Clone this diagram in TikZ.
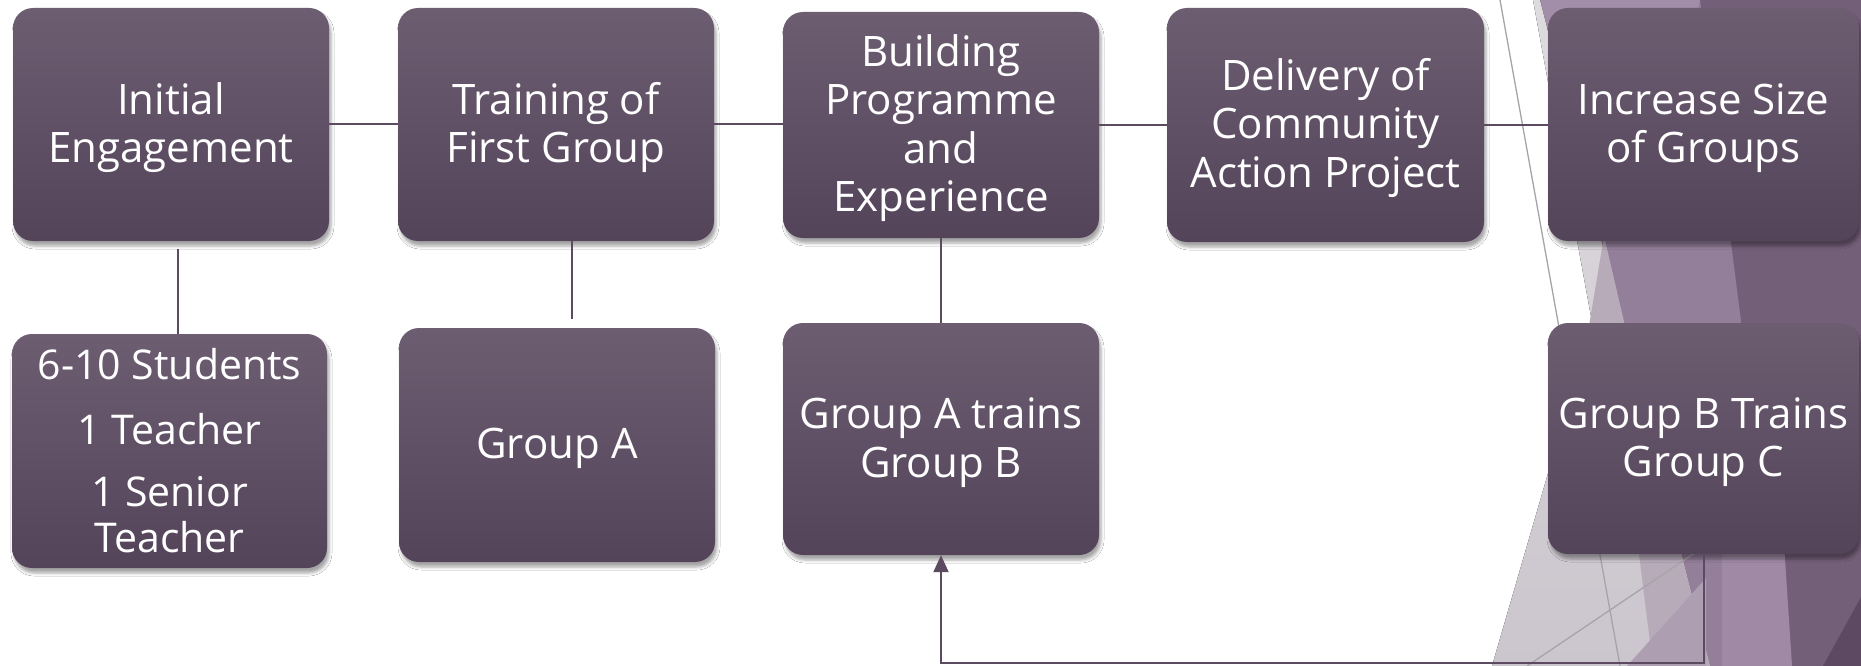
\documentclass[tikz,border=0pt]{standalone}
\usepackage{fontspec}
\setmainfont{Open Sans}
\usetikzlibrary{arrows.meta,shadows.blur}
\definecolor{boxtop}{RGB}{108,93,113}
\definecolor{boxbot}{RGB}{84,68,90}
\definecolor{linec}{RGB}{91,74,96}
\definecolor{bgDark}{RGB}{116,95,121}
\definecolor{bgMed}{RGB}{148,127,154}
\definecolor{bgTop}{RGB}{162,142,168}
\definecolor{bgGrayA}{RGB}{222,219,223}
\definecolor{bgGrayB}{RGB}{203,198,205}
\definecolor{bgGP}{RGB}{183,171,186}
\definecolor{bgGP2}{RGB}{173,158,178}
\definecolor{bgLight}{RGB}{159,137,164}
\definecolor{bgDarkest}{RGB}{93,73,98}
\definecolor{thinc}{RGB}{168,163,170}
\newcommand{\mystrut}{\rule[-8pt]{0pt}{46pt}}
\begin{document}
\begin{tikzpicture}[x=1pt,y=-1pt,
  box/.style={rectangle, rounded corners=20pt, top color=boxtop, bottom color=boxbot,
    text=white, align=center, inner sep=0pt,
    font=\fontsize{42}{48.5}\selectfont,
    blur shadow={shadow xshift=2pt, shadow yshift=-5pt, shadow blur radius=3pt, shadow opacity=35}},
  conn/.style={draw=linec, line width=2pt},
  thinline/.style={draw=thinc, line width=1.3pt},
]
\useasboundingbox (0,0) rectangle (1861,666);
\fill[white] (0,0) rectangle (1861,666);
% decorative background
\fill[bgDark] (1695,0) -- (1861,0) -- (1861,666) -- (1780,666) -- cycle;
\fill[bgMed] (1540,0) -- (1700,0) -- (1785,666) -- (1710,666) -- cycle;
\fill[bgTop] (1540,0) -- (1700,0) -- (1640,228) -- (1601,228) -- cycle;
\fill[top color=bgGrayA, bottom color=bgGrayB] (1533,0) -- (1540,0) -- (1710,666) -- (1492,666) -- (1592,322) -- cycle;
\fill[bgGP] (1604,236) -- (1589,326) -- (1625,326) -- cycle;
\fill[bgGP] (1610,323) -- (1622,323) -- (1710,666) -- (1653,666) -- cycle;
\fill[bgGP2] (1706,578) -- (1706,666) -- (1627,666) -- cycle;
\fill[bgLight] (1722,330) -- (1770,330) -- (1792,666) -- (1722,666) -- cycle;
\fill[bgDarkest] (1823,666) -- (1861,597) -- (1861,666) -- cycle;
\draw[thinline] (1500,0) -- (1620,666);
\draw[thinline] (1527,666) -- (1705,546);
% boxes
\node[box, minimum width=316pt, minimum height=233pt] (b1) at (171,124.5) {\mystrut Initial\\\mystrut Engagement};
\node[box, minimum width=316pt, minimum height=233pt] (b2) at (556,124.5) {\mystrut Training of\\\mystrut First Group};
\node[box, minimum width=316pt, minimum height=226pt] (b3) at (941,125) {\mystrut Building\\\mystrut Programme\\\mystrut and\\\mystrut Experience};
\node[box, minimum width=317pt, minimum height=234pt] (b4) at (1325.5,125) {\mystrut Delivery of\\\mystrut Community\\\mystrut Action Project};
\node[box, minimum width=311pt, minimum height=233pt] (b5) at (1703.5,124.5) {\mystrut Increase Size\\\mystrut of Groups};
\node[box, minimum width=315pt, minimum height=234pt, font=\fontsize{41}{46}\selectfont] (s1) at (169.5,451) {\mystrut 6-10 Students\\[19pt]\mystrut 1 Teacher\\[16pt]\mystrut 1 Senior\\\mystrut Teacher};
\node[box, minimum width=316pt, minimum height=234pt] (ga) at (557,445) {\mystrut Group A};
\node[box, minimum width=316pt, minimum height=232pt] (gab) at (941,439) {\mystrut Group A trains\\\mystrut Group B};
\node[box, minimum width=311pt, minimum height=231pt] (gbc) at (1703.5,438.5) {\mystrut Group B Trains\\\mystrut Group C};
% connectors
\coordinate (bot) at (0,663);
\draw[conn] (b1.east) -- (b1.east -| b2.west);
\draw[conn] (b2.east) -- (b2.east -| b3.west);
\draw[conn] (b3.east) -- (b3.east -| b4.west);
\draw[conn] (b4.east) -- (b4.east -| b5.west);
\draw[conn] ([xshift=7pt]b1.south) ++(0,8) -- ([xshift=7pt]b1.south |- s1.north);
\draw[conn, shorten >=9pt] ([xshift=16pt]b2.south) -- ([xshift=16pt]b2.south |- ga.north);
\draw[conn] (b3.south) -- (gab.north);
\draw[conn, -{Triangle[length=17pt,width=15pt]}] (gbc.south) -- (gbc.south |- bot) -- (gab.south |- bot) -- (gab.south);
\end{tikzpicture}
\end{document}
